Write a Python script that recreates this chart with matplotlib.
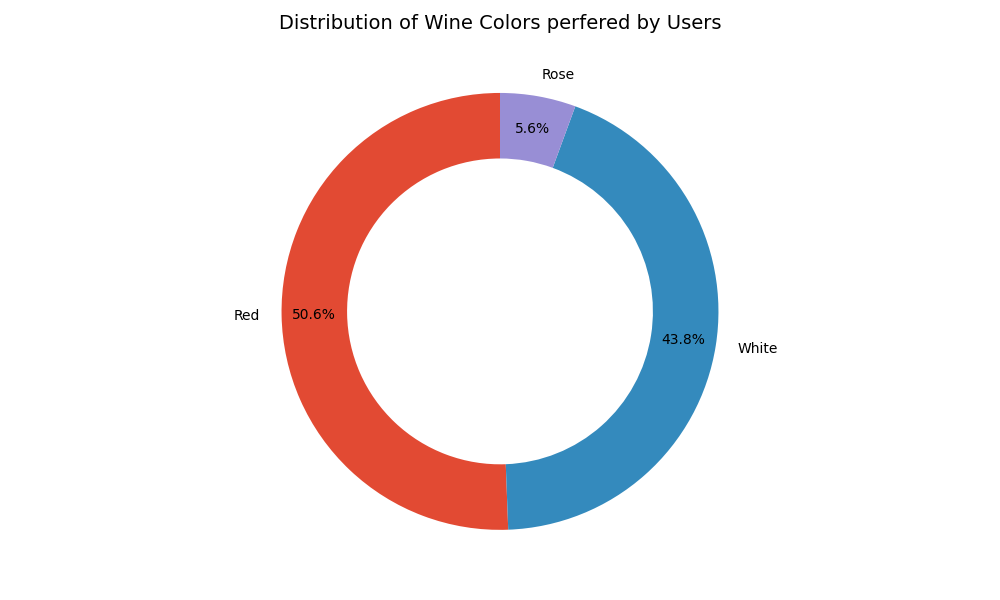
import matplotlib.pyplot as plt

labels = ["Red", "White", "Rose"]
shares = [50.6, 43.8, 5.6]
colors = ["#E24A33", "#348ABD", "#988ED5"]

fig = plt.figure(figsize=(10, 6), dpi=100)
ax = fig.add_axes([0.1, 0.0805, 0.8, 0.801])
ax.pie(shares, labels=labels, colors=colors, autopct="%1.1f%%",
       startangle=90, pctdistance=0.85, wedgeprops=dict(width=0.3))
ax.set_ylim(-1.1, 1.1)
ax.set_aspect("equal", adjustable="datalim")
ax.set_title("Distribution of Wine Colors perfered by Users", fontsize=14, pad=30)
plt.savefig("out.png")
